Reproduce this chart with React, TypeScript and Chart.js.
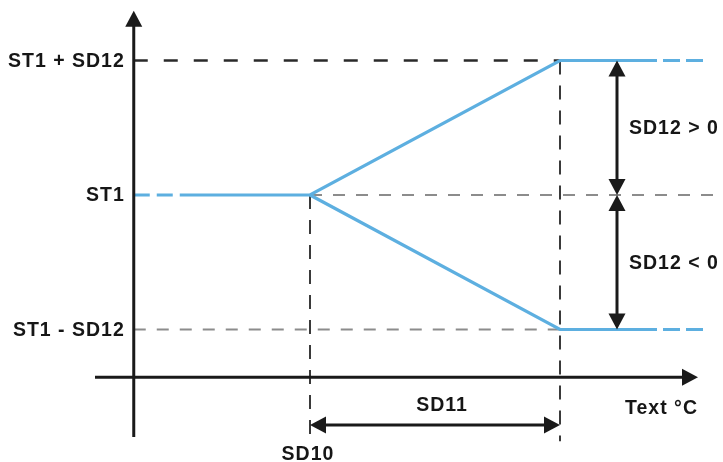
import { useEffect, useRef } from 'react';
import Chart from 'chart.js/auto';

// x units: 0 = SD10, 1 = SD10 + SD11 ; y units: 0 = ST1, +-1 = ST1 +- SD12
const levelLabels = ['ST1 + SD12', 'ST1', 'ST1 - SD12'];
const levelValues = [1, 0, -1];
const breakpoints = [0, 1];
const breakLabels = ['SD10', 'SD11'];
const spanLabels = ['SD12 > 0', 'SD12 < 0'];
const xAxisTitle = 'Text °C';

// axes (origin + arrow tips)
const axisOrigin = { x: -0.705, y: -1.355 };
const axisEnds = { xMin: -0.86, xMax: 1.552, yMin: -1.8, yMax: 1.37 };

// blue setpoint curve
const curveX = [-0.46, 0, 1, 1.32];
const upperCurveY = [0, 0, 1, 1];
const lowerCurveY = [0, 0, -1, -1];
const leftTailX = [-0.705, -0.46];
const rightTailX = [1.32, 1.58];

// dimension arrows / guides
const spanArrowX = 1.228;
const spanArrowY = -1.71;
const guideBottom = -1.83;
const st1GuideEnd = 1.65;

const colors = {
  blue: '#5DAFE0',
  black: '#1a1a1a',
  darkDash: '#2a2a2a',
  grayDash: '#8c8c8c',
  guide: '#3a3a3a',
};

const pts = (xs: number[], ys: number[]) => xs.map((x, i) => ({ x, y: ys[i] }));

const overlay = {
  id: 'overlay',
  afterDatasetsDraw(chart: any) {
    const { ctx, scales } = chart;
    const px = (v: number) => scales.x.getPixelForValue(v);
    const py = (v: number) => scales.y.getPixelForValue(v);
    ctx.save();
    ctx.fillStyle = colors.black;
    ctx.strokeStyle = colors.black;

    const head = (tx: number, ty: number, dx: number, dy: number) => {
      const len = 16;
      const half = 8.5;
      const bx = tx - dx * len;
      const by = ty - dy * len;
      ctx.beginPath();
      ctx.moveTo(tx, ty);
      ctx.lineTo(bx - dy * half, by + dx * half);
      ctx.lineTo(bx + dy * half, by - dx * half);
      ctx.closePath();
      ctx.fill();
    };
    const shaft = (x1: number, y1: number, x2: number, y2: number) => {
      ctx.beginPath();
      ctx.lineWidth = 3;
      ctx.moveTo(x1, y1);
      ctx.lineTo(x2, y2);
      ctx.stroke();
    };

    // axis arrowheads
    head(px(axisEnds.xMax), py(axisOrigin.y), 1, 0);
    head(px(axisOrigin.x), py(axisEnds.yMax), 0, -1);

    // SD12 double arrows
    const ax = px(spanArrowX);
    for (let i = 0; i < levelValues.length - 1; i++) {
      const y1 = py(levelValues[i]);
      const y2 = py(levelValues[i + 1]);
      shaft(ax, y1 + 10, ax, y2 - 10);
      head(ax, y1, 0, -1);
      head(ax, y2, 0, 1);
    }

    // SD11 double arrow
    const ay = py(spanArrowY);
    const x1 = px(breakpoints[0]);
    const x2 = px(breakpoints[1]);
    shaft(x1 + 10, ay, x2 - 10, ay);
    head(x1, ay, -1, 0);
    head(x2, ay, 1, 0);

    // text
    ctx.fillStyle = '#161616';
    ctx.font = 'bold 19.5px "Liberation Sans", Arial, sans-serif';
    (ctx as any).letterSpacing = '1px';
    ctx.textBaseline = 'middle';

    ctx.textAlign = 'right';
    levelLabels.forEach((t, i) => ctx.fillText(t, px(axisOrigin.x) - 9, py(levelValues[i]) + 1));

    ctx.textAlign = 'left';
    spanLabels.forEach((t, i) =>
      ctx.fillText(t, ax + 12, py((levelValues[i] + levelValues[i + 1]) / 2) + 1)
    );

    ctx.textAlign = 'center';
    ctx.fillText(breakLabels[1], (x1 + x2) / 2 + 7, ay - 19);
    ctx.fillText(breakLabels[0], x1 - 2, py(guideBottom) + 13);

    ctx.textAlign = 'right';
    ctx.fillText(xAxisTitle, px(axisEnds.xMax), py(axisOrigin.y) + 31);

    ctx.restore();
  },
};

const line = (data: any[], color: string, width: number, dash: number[] = []) => ({
  data,
  showLine: true,
  borderColor: color,
  backgroundColor: color,
  borderWidth: width,
  borderDash: dash,
  pointRadius: 0,
  tension: 0,
  fill: false,
});

const App = () => {
  const chartRef = useRef<HTMLCanvasElement | null>(null);
  const chartInstance = useRef<Chart | null>(null);

  useEffect(() => {
    if (!chartRef.current) return;
    if (chartInstance.current) chartInstance.current.destroy();
    const ctx = chartRef.current.getContext('2d');
    if (!ctx) return;

    chartInstance.current = new Chart(ctx, {
      type: 'scatter',
      data: {
        datasets: [
          // axes
          line(pts([axisOrigin.x, axisOrigin.x], [axisEnds.yMin, axisEnds.yMax - 0.05]), colors.black, 3),
          line(pts([axisEnds.xMin, axisEnds.xMax - 0.03], [axisOrigin.y, axisOrigin.y]), colors.black, 3),
          // blue curve
          line(pts(curveX, upperCurveY), colors.blue, 3.2),
          line(pts(curveX.slice(1), lowerCurveY.slice(1)), colors.blue, 3.2),
          line(pts(leftTailX, [0, 0]), colors.blue, 3.2, [16, 7]),
          line(pts(rightTailX, [1, 1]), colors.blue, 3.2, [17, 6]),
          line(pts(rightTailX, [-1, -1]), colors.blue, 3.2, [17, 6]),
          // vertical guides
          line(pts([breakpoints[0], breakpoints[0]], [0, guideBottom]), colors.guide, 2, [14, 11]),
          line(pts([breakpoints[1], breakpoints[1]], [1, guideBottom]), colors.guide, 2, [14, 11]),
          // level guides
          line(pts([axisOrigin.x, breakpoints[1]], [1, 1]), colors.darkDash, 2.5, [14, 16]),
          line(pts([breakpoints[0], st1GuideEnd], [0, 0]), colors.grayDash, 2, [12, 11]),
          line(pts([axisOrigin.x, breakpoints[1]], [-1, -1]), colors.grayDash, 2, [12, 11]),
        ],
      },
      options: {
        animation: false,
        responsive: true,
        maintainAspectRatio: false,
        layout: { padding: 0 },
        plugins: { legend: { display: false }, tooltip: { enabled: false } },
        scales: {
          x: { type: 'linear', display: false, min: -1.24, max: 1.652 },
          y: { type: 'linear', display: false, min: -1.985, max: 1.45 },
        },
      },
      plugins: [overlay],
    });

    return () => {
      if (chartInstance.current) {
        chartInstance.current.destroy();
        chartInstance.current = null;
      }
    };
  }, []);

  return (
    <div style={{ position: 'fixed', left: 0, top: 0, width: 723, height: 462, background: '#fff' }}>
      <canvas ref={chartRef}></canvas>
    </div>
  );
};

export default App;
